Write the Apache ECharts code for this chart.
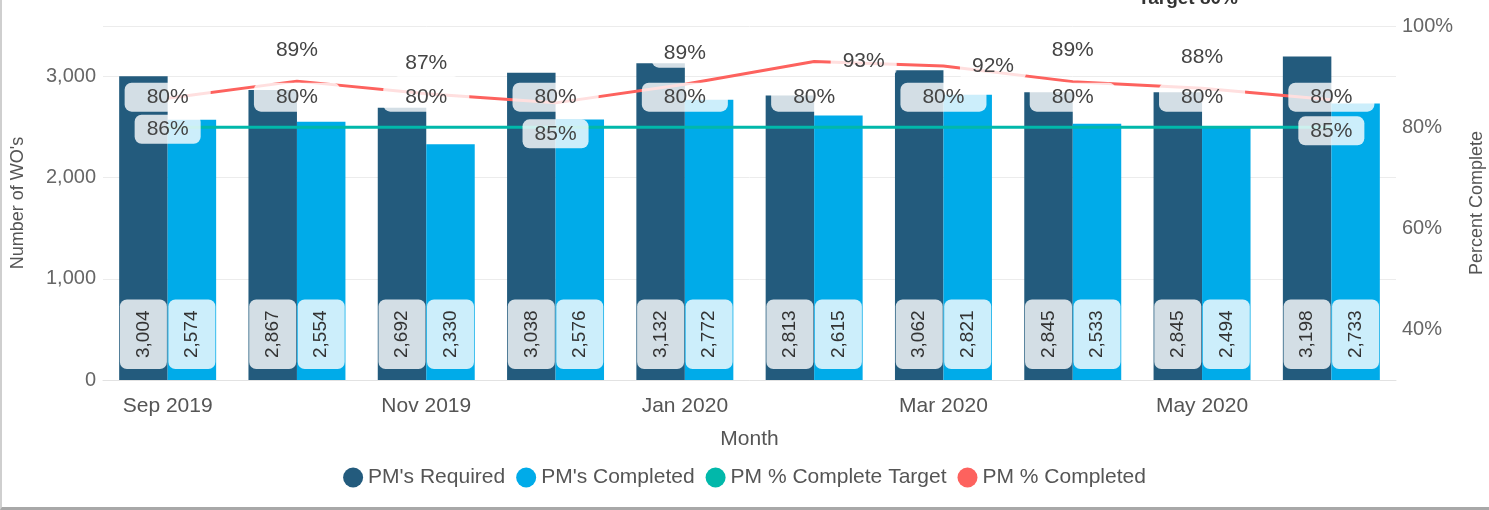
<!DOCTYPE html>
<html>
<head>
<meta charset="utf-8">
<script src="https://cdn.jsdelivr.net/npm/echarts@6/dist/echarts.min.js"></script>
<style>
  html, body { margin: 0; padding: 0; background: #fff; }
  #wrap { position: relative; width: 1489px; height: 510px; }
  #chart { width: 1489px; height: 510px; }
  #frame { position: absolute; left: 0; top: 0; width: 1489px; height: 510px; box-sizing: border-box;
           border-left: 2px solid #cfcfcf; border-bottom: 3px solid #a8a8a8; pointer-events: none; }
</style>
</head>
<body>
<div id="wrap">
  <div id="chart"></div>
  <div id="frame"></div>
</div>
<script>
// months on the x axis
const months = ['Sep 2019', 'Oct 2019', 'Nov 2019', 'Dec 2019', 'Jan 2020',
  'Feb 2020', 'Mar 2020', 'Apr 2020', 'May 2020', 'Jun 2020'];

const pmRequired = [3004, 2867, 2692, 3038, 3132, 2813, 3062, 2845, 2845, 3198];
const pmCompleted = [2574, 2554, 2330, 2576, 2772, 2615, 2821, 2533, 2494, 2733];
const pmTarget = [0.8, 0.8, 0.8, 0.8, 0.8, 0.8, 0.8, 0.8, 0.8, 0.8];
const pmPercent = [0.857, 0.891, 0.866, 0.848, 0.885, 0.930, 0.921, 0.890, 0.877, 0.854];
// where Power BI put each % label
const pmPercentPos = ['bottom', 'top', 'top', 'bottom', 'top', 'right', 'right', 'top', 'top', 'bottom'];

const FONT = 'Liberation Sans';
const labelBox = 'rgba(255,255,255,0.8)';

const chart = echarts.init(document.getElementById('chart'));

const barLabel = {
  show: true,
  position: 'insideBottom',
  distance: 11,
  rotate: 90,
  align: 'left',
  verticalAlign: 'middle',
  color: '#333',
  fontSize: 19,
  fontFamily: FONT,
  backgroundColor: labelBox,
  borderRadius: 7,
  padding: [14, 11],
  formatter: (p) => p.value.toLocaleString('en-US')
};

const pctText = (p) => Math.round(p.value * 100) + '%';

chart.setOption({
  animation: false,
  textStyle: { fontFamily: FONT },
  title: {
    text: 'Target 80%',
    left: 1133,
    top: -16,
    textStyle: { fontSize: 19, fontWeight: 'bold', color: '#333', fontFamily: FONT }
  },
  legend: {
    top: 462,
    left: 'center',
    icon: 'circle',
    itemWidth: 20,
    itemHeight: 20,
    itemGap: 11,
    textStyle: { fontSize: 21, color: '#555', fontFamily: FONT },
    data: ["PM's Required", "PM's Completed", 'PM % Complete Target', 'PM % Completed']
  },
  grid: { left: 103, right: 93, top: 26, bottom: 130, outerBoundsMode: 'none', containLabel: false },
  xAxis: {
    type: 'category',
    data: months,
    name: 'Month',
    nameLocation: 'middle',
    nameGap: 49,
    nameTextStyle: { fontSize: 21, color: '#555' },
    axisTick: { show: false },
    axisLine: { lineStyle: { color: '#e2e2e2' } },
    axisLabel: { interval: 1, fontSize: 21, color: '#555', margin: 16 }
  },
  yAxis: [
    {
      type: 'value',
      min: 0,
      max: 3500,
      interval: 1000,
      name: "Number of WO's",
      nameLocation: 'middle',
      nameGap: 76,
      nameTextStyle: { fontSize: 18, color: '#555' },
      axisLabel: {
        fontSize: 20, color: '#666', margin: 7, showMaxLabel: false,
        formatter: (v) => v.toLocaleString('en-US')
      },
      splitLine: { lineStyle: { color: '#ececec' } }
    },
    {
      type: 'value',
      min: 0.3,
      max: 1.0,
      interval: 0.1,
      name: 'Percent Complete',
      nameLocation: 'middle',
      nameGap: 72,
      nameTextStyle: { fontSize: 18, color: '#555' },
      splitLine: { show: false },
      axisLabel: {
        fontSize: 20, color: '#666', margin: 6,
        formatter: (v) => {
          const n = Math.round(v * 100);
          return n % 20 === 0 ? n + '%' : '';
        }
      }
    }
  ],
  series: [
    {
      name: "PM's Required",
      type: 'bar',
      data: pmRequired,
      barGap: '0%',
      barCategoryGap: '25%',
      itemStyle: { color: '#235B7D' },
      label: barLabel
    },
    {
      name: "PM's Completed",
      type: 'bar',
      data: pmCompleted,
      itemStyle: { color: '#00ABE9' },
      label: barLabel
    },
    {
      name: 'PM % Complete Target',
      type: 'line',
      yAxisIndex: 1,
      z: 3,
      data: pmTarget,
      symbol: 'circle',
      symbolSize: 1,
      itemStyle: { color: '#01B8AA' },
      lineStyle: { color: '#01B8AA', width: 3 },
      label: {
        show: true,
        position: 'top',
        distance: 15,
        fontSize: 21,
        color: '#444',
        backgroundColor: labelBox,
        borderRadius: 7,
        padding: [4, 22],
        formatter: pctText
      }
    },
    {
      name: 'PM % Completed',
      type: 'line',
      yAxisIndex: 1,
      z: 3,
      data: pmPercent.map((v, i) => ({ value: v, label: { position: pmPercentPos[i] } })),
      symbol: 'circle',
      symbolSize: 1,
      itemStyle: { color: '#FD625E' },
      lineStyle: { color: '#FD625E', width: 3 },
      label: {
        show: true,
        distance: 16,
        fontSize: 21,
        color: '#444',
        backgroundColor: labelBox,
        borderRadius: 7,
        padding: [4, 12],
        formatter: pctText
      }
    }
  ]
});
</script>
</body>
</html>
